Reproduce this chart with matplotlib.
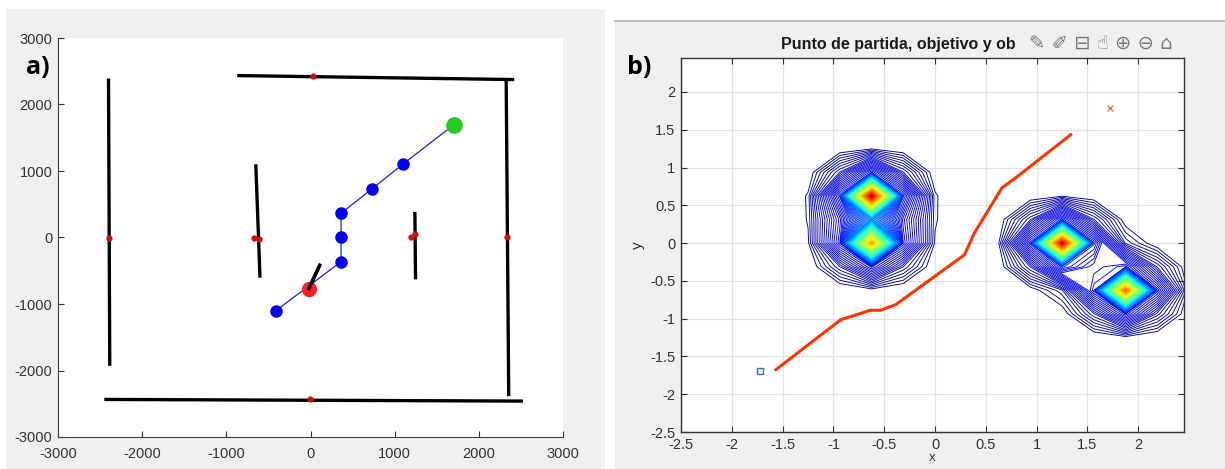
import numpy as np
import matplotlib
matplotlib.use("Agg")
import matplotlib.pyplot as plt
from matplotlib.patches import Rectangle
from matplotlib.colors import Normalize

plt.rcParams["font.family"] = ["Liberation Sans", "DejaVu Sans"]
plt.rcParams["axes.unicode_minus"] = False

# ---- panel a: map, walls and planned route ----
wall_x0 = [-2400, -870, 2325, -2450, -650, 1240, 110]
wall_y0 = [2390, 2435, 2365, -2435, 1100, 385, -415]
wall_x1 = [-2385, 2420, 2355, 2525, -600, 1248, -20]
wall_y1 = [-1930, 2375, -2385, -2460, -605, -630, -770]
mid_x = [-2400, 28, 2333, -5, -671, -615, 1192, 1239]
mid_y = [-10, 2424, 10, -2434, -10, -20, 10, 56]
route_x = [-410, 363, 363, 363, 731, 1095, 1705]
route_y = [-1100, -364, 0, 364, 732, 1100, 1697]
start_a = (-23, -778)
goal_a = (1705, 1697)
ticks_a = [-3000, -2000, -1000, 0, 1000, 2000, 3000]

# ---- panel b: potential field obstacles and path ----
peak_x = [-0.65, -0.65, 1.23, 1.84]
peak_y = [0.61, -0.01, -0.05, -0.62]
peak_h = [1.0, 0.78, 1.0, 0.86]
path_x = [-1.565, -0.927, -0.80, -0.637, -0.54, -0.386, 0.291, 0.387, 0.658, 0.813, 1.335]
path_y = [-1.674, -1.013, -0.96, -0.889, -0.889, -0.814, -0.153, 0.134, 0.730, 0.884, 1.435]
start_b = (-1.727, -1.697)
goal_b = (1.721, 1.788)
xticks_b = [-2.5, -2, -1.5, -1, -0.5, 0, 0.5, 1, 1.5, 2]
yticks_b = [-2.5, -2, -1.5, -1, -0.5, 0, 0.5, 1, 1.5, 2]

W, H = 1225, 469
fig = plt.figure(figsize=(W / 100, H / 100), dpi=100)
fig.patch.set_facecolor("white")

# grey screenshot backgrounds
fig.patches.append(Rectangle((6 / W, 0), 599 / W, (H - 9) / H, transform=fig.transFigure,
                             facecolor="#f0f0f0", edgecolor="none", zorder=-10))
fig.patches.append(Rectangle((615 / W, 0), 610 / W, (H - 21) / H, transform=fig.transFigure,
                             facecolor="#f0f0f0", edgecolor="none", zorder=-10))
fig.add_artist(plt.Line2D([615 / W, 1], [1 - 21 / H, 1 - 21 / H], transform=fig.transFigure,
                          color="#b8b8b8", linewidth=1.3, zorder=-5))


def ax_rect(x0, y0, x1, y1):
    return [x0 / W, 1 - y1 / H, (x1 - x0) / W, (y1 - y0) / H]


# ---------------- panel a ----------------
axa = fig.add_axes(ax_rect(58, 38, 563, 437))
axa.set_facecolor("white")
for x0, y0, x1, y1 in zip(wall_x0, wall_y0, wall_x1, wall_y1):
    axa.plot([x0, x1], [y0, y1], color="black", linewidth=2.4, solid_capstyle="butt", zorder=3)
axa.plot(mid_x, mid_y, "o", color="#d01010", markersize=3.5, zorder=4)
axa.plot(route_x, route_y, "-", color="#2020c0", linewidth=0.9, zorder=2)
axa.plot(route_x[:-1], route_y[:-1], "o", color="#0000ff", markersize=8, zorder=5)
axa.plot(*goal_a, "o", color="#22cc22", markersize=11, zorder=5)
axa.plot(*start_a, "o", color="#ff2020", markersize=10, zorder=5)
axa.plot([wall_x0[-1], wall_x1[-1]], [wall_y0[-1], wall_y1[-1]], color="black",
         linewidth=2.4, zorder=6)
axa.set_xlim(-3000, 3000)
axa.set_ylim(-3000, 3000)
axa.set_xticks(ticks_a)
axa.set_yticks(ticks_a)
for s in ["top", "right"]:
    axa.spines[s].set_visible(False)
for s in ["left", "bottom"]:
    axa.spines[s].set_color("#404040")
axa.tick_params(direction="in", length=4, labelsize=10.5, colors="#333333")
axa.tick_params(axis="x", pad=7)
axa.tick_params(axis="y", pad=4)
fig.text(38 / W, 1 - 68 / H, "a)", fontsize=18, fontweight="bold",
         family="Open Sans", ha="center", va="center")

# ---------------- panel b ----------------
axb = fig.add_axes(ax_rect(681, 58, 1184, 432))
axb.set_facecolor("white")
gx = np.linspace(-2.5, 2.5, 17)
gy = np.linspace(-2.5, 2.5, 17)
X, Y = np.meshgrid(gx, gy)
Z = np.zeros_like(X)
for px, py, ph in zip(peak_x, peak_y, peak_h):
    # field sampled on the coarse grid, centred on the node nearest each obstacle
    cx = gx[np.argmin(np.abs(gx - px))]
    cy = gy[np.argmin(np.abs(gy - py))]
    d = np.hypot(X - cx, Y - cy)
    Z = Z + ph * np.exp(-d / 0.164)
levels = np.concatenate([np.linspace(0.024, 0.055, 6), np.linspace(0.062, Z.max(), 140)])
axb.contour(X, Y, Z, levels=levels, cmap="jet", norm=Normalize(0.0, Z.max() * 1.05),
            linewidths=0.65, zorder=2)
axb.plot(path_x, path_y, "-", color="#ff3300", linewidth=2.2, zorder=4)
axb.plot(*start_b, "s", markerfacecolor="none", markeredgecolor="#2a7fa0", markersize=5, zorder=4)
axb.plot(*goal_b, "x", color="#e06a40", markersize=5, markeredgewidth=0.9, zorder=4)
axb.set_xlim(-2.5, 2.45)
axb.set_ylim(-2.5, 2.45)
axb.set_xticks(xticks_b)
axb.set_yticks(yticks_b)
axb.set_xticklabels([f"{v:g}" for v in xticks_b])
axb.set_yticklabels([f"{v:g}" for v in yticks_b])
axb.grid(True, color="#e2e2e2", linewidth=0.9)
axb.set_axisbelow(True)
axb.tick_params(direction="in", length=4, top=True, right=True, labelsize=10.5,
                colors="#333333", pad=4)
for s in axb.spines.values():
    s.set_color("#333333")
    s.set_linewidth(1.0)
axb.set_ylabel("y", fontsize=11, color="#333333", labelpad=4)
axb.set_xlabel("x", fontsize=9.5, color="#333333", labelpad=0)

fig.text(898 / W, 1 - 44 / H, "Punto de partida, objetivo y ob", fontsize=11.5,
         fontweight="bold", ha="center", va="center", color="#1a1a1a")
fig.text(1101 / W, 1 - 44 / H, "✎ ✐ ⊟ ☝ ⊕ ⊖ ⌂", fontsize=14, family="DejaVu Sans",
         ha="center", va="center", color="#7a7a7a")
fig.text(639 / W, 1 - 68 / H, "b)", fontsize=18, fontweight="bold",
         family="Open Sans", ha="center", va="center")

fig.savefig("out.png", dpi=100, facecolor="white")
